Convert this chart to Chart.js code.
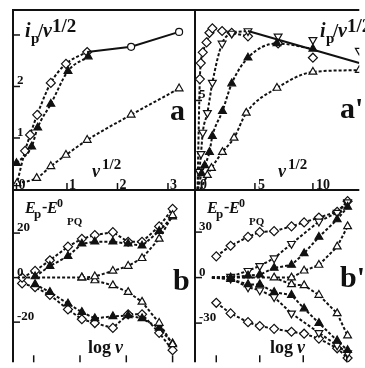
<!DOCTYPE html>
<html>
<head>
<meta charset="utf-8">
<script src="https://cdn.jsdelivr.net/npm/chart.js@4.4.1/dist/chart.umd.min.js"></script>
<style>
    body { margin: 0; background: #fff; }
    #wrap { position: relative; width: 365px; height: 368px; overflow: hidden; }
    #wrap canvas { position: absolute; left: 0; top: 0; }
</style>
</head>
<body>
<div id="wrap">
    <canvas id="panel_a" width="365" height="368"></canvas>
    <canvas id="panel_a2" width="365" height="368"></canvas>
    <canvas id="panel_b" width="365" height="368"></canvas>
    <canvas id="panel_b2" width="365" height="368"></canvas>
</div>
<script>

// ------------------------------------------------------- //
// data  (x, y) pairs
// ------------------------------------------------------ //

// a : i_p / v^1/2 against v^1/2
var a_diamond = [[0.0, 0.08], [0.17, 0.75], [0.27, 1.06], [0.41, 1.45], [0.68, 2.07], [0.98, 2.44], [1.40, 2.67]];
var a_ftri    = [[0.0, 0.51], [0.30, 0.83], [0.42, 1.20], [0.68, 1.66], [1.02, 2.30], [1.42, 2.58]];
var a_otri    = [[0.01, 0.12], [0.40, 0.22], [0.68, 0.45], [0.98, 0.67], [1.40, 0.96], [2.27, 1.45], [3.22, 1.96]];
var a_limit   = [[1.40, 2.67], [2.27, 2.77], [3.22, 3.06]];
var a_xticks  = [0, 1, 2, 3];
var a_xlabels = ['0', '1', '2', '3'];
var a_yticks  = [1, 2, 3];
var a_ylabels = ['1', '2', ''];

// a' : same, wider range
var ap_diamond  = [[0.05, 0], [0.25, 6.2], [0.33, 7.1], [0.5, 7.7], [0.83, 8.26], [1.08, 8.8], [1.33, 9.05], [2.17, 8.9], [3.0, 8.8], [4.4, 8.6]];
var ap_diamond2 = [[7.0, 8.2], [10.0, 7.4]];
var ap_dtri     = [[0.05, 0], [0.2, 1.0], [0.35, 2.0], [0.5, 3.2], [0.9, 4.3], [1.33, 6.0], [2.17, 8.2], [3.0, 8.76], [4.4, 8.9]];
var ap_dtri2    = [[7.0, 8.6], [10.0, 8.4], [14.0, 7.8]];
var ap_ftri     = [[0.1, 0], [0.4, 0.9], [0.67, 1.35], [1.08, 2.1], [1.33, 3.0], [2.2, 4.4], [3.0, 5.95], [4.4, 7.4], [6.9, 8.2], [10.0, 7.9]];
var ap_otri     = [[0.3, 0], [0.9, 0.8], [1.25, 1.2], [2.2, 2.1], [3.2, 2.9], [4.25, 4.3], [6.9, 5.7], [10.0, 6.6], [14.0, 6.7]];
var ap_limit    = [[4.4, 8.9], [14.0, 7.1]];
var ap_xticks   = [0, 5, 10];
var ap_xlabels  = ['0', '5', '10'];
var ap_yticks   = [5];
var ap_ylabels  = ['5'];

// b : E_p - E0_PQ against log v
var b_diamond_up = [[-1.25, 0], [-0.97, 3], [-0.65, 7.8], [-0.26, 13.9], [0.04, 17.4], [0.32, 19.1], [0.71, 20.4], [1.04, 16.1], [1.34, 16.1], [1.71, 23], [2.0, 30.9]];
var b_diamond_dn = [[-1.25, -2.6], [-0.97, -4.3], [-0.65, -7.8], [-0.26, -14.3], [0.04, -18.7], [0.32, -20.4], [0.71, -22.6], [1.04, -16.5], [1.34, -16.5], [1.71, -24.8], [2.0, -32.6]];
var b_ftri_up    = [[-0.97, 0.5], [-0.65, 5.2], [-0.26, 9.6], [0.04, 15.2], [0.32, 16.1], [0.71, 16.1], [1.04, 15.2], [1.34, 14.3], [1.71, 20.9], [2.0, 27.4]];
var b_ftri_dn    = [[-0.97, -3], [-0.65, -6.5], [-0.26, -11.7], [0.04, -15.5], [0.32, -18.3], [0.71, -17.4], [1.04, -17], [1.34, -18.3], [1.71, -22.6], [2.0, -29.6]];
var b_otri_up    = [[-1.25, 0], [0.04, 0], [0.32, 0.5], [0.71, 3], [1.04, 5.2], [1.34, 8.7], [1.71, 17.4], [2.0, 28]];
var b_otri_dn    = [[0.04, 0], [0.32, -1.3], [0.71, -3.5], [1.04, -6.5], [1.34, -10.9], [1.71, -20.4], [2.0, -30]];
var b_xticks     = [-1, 0, 1, 2];
var b_yticks     = [20, 0, -20];
var b_ylabels    = ['20', '0', '-20'];

// b' : same, wider range
var bp_diamond_up = [[-1.0, 14], [-0.67, 21], [-0.27, 26.8], [0, 30], [0.33, 30.6], [0.73, 33.8], [1.02, 36.4], [1.36, 39.6], [1.78, 43.4], [2.02, 50.4]];
var bp_diamond_dn = [[-1.0, -16.6], [-0.67, -23.6], [-0.27, -29.4], [0, -31.9], [0.33, -33.8], [0.73, -35.7], [1.02, -37], [1.36, -40.2], [1.78, -46.6], [2.02, -53]];
var bp_dtri_up    = [[-1.1, 0], [-0.67, 0.6], [-0.27, 4.5], [0, 7.7], [0.33, 12.8], [0.73, 22.3], [1.36, 37], [1.78, 42.8], [2.02, 49.8]];
var bp_dtri_dn    = [[-1.1, 0], [-0.67, -0.6], [-0.27, -6.4], [0, -8.3], [0.33, -12.8], [0.73, -23.6], [1.36, -36.4], [1.78, -44.7], [2.02, -49.8]];
var bp_ftri_up    = [[-1.1, 0], [-0.67, 0], [-0.27, 1.3], [0, 1.9], [0.33, 6.4], [0.73, 8.3], [1.02, 16], [1.36, 26.8], [1.78, 38.3], [2.02, 46.6]];
var bp_ftri_dn    = [[-1.1, 0], [-0.67, -1], [-0.27, -4.5], [0, -4.5], [0.33, -9.6], [0.73, -11.5], [1.02, -20.4], [1.36, -30], [1.78, -41.5], [2.02, -47.9]];
var bp_otri_up    = [[-1.1, 0], [0.33, 0], [0.73, 0], [1.02, 4.5], [1.36, 8.3], [1.78, 20.4], [2.02, 33.8]];
var bp_otri_dn    = [[0.33, 0], [0.73, -4.5], [1.02, -5.1], [1.36, -11.5], [1.78, -23.6], [2.02, -38.3]];
var bp_xticks     = [-1, 0, 1, 2];
var bp_yticks     = [30, 0, -30];
var bp_ylabels    = ['30', '0', '-30'];


// ------------------------------------------------------- //
// helpers
// ------------------------------------------------------ //

var INK = '#111';
var SERIF = "'Liberation Serif', 'DejaVu Serif', serif";

var DIAMOND = { style: 'rectRot', fill: '#fff', r: 4.5 };
var FTRI    = { style: 'triangle', fill: INK, r: 4.5 };
var OTRI    = { style: 'triangle', fill: '#fff', r: 4.5 };
var DTRI    = { style: 'triangle', fill: '#fff', r: 4.5, rotation: 180 };
var CIRCLE  = { style: 'circle', fill: '#fff', r: 3.5 };

function pts(arr) {
    return arr.map(function (p) { return { x: p[0], y: p[1] }; });
}

// one dataset; "hide" lists indexes that only anchor the curve
function series(arr, mark, o) {
    o = o || {};
    var hide = o.hide || [];
    return {
        data: pts(arr),
        showLine: o.noLine ? false : true,
        borderColor: INK,
        borderWidth: 2,
        borderDash: o.solid ? [] : [3, 2],
        cubicInterpolationMode: o.smooth ? 'monotone' : 'default',
        tension: 0,
        pointStyle: mark.style,
        pointRotation: mark.rotation || 0,
        pointBackgroundColor: mark.fill,
        pointBorderColor: INK,
        pointBorderWidth: 1.2,
        pointRadius: arr.map(function (p, i) { return hide.indexOf(i) >= 0 ? 0 : mark.r; }),
        pointHoverRadius: 0
    };
}

// axis frame, inside ticks and text
var framePlugin = {
    id: 'frame',
    afterDraw: function (chart) {
        var o = chart.options.plugins.frame;
        var ctx = chart.ctx, area = chart.chartArea;
        var xs = chart.scales.x, ys = chart.scales.y;
        ctx.save();
        ctx.strokeStyle = INK;
        ctx.fillStyle = INK;

        ctx.lineWidth = 2;
        ctx.beginPath();
        ctx.moveTo(area.left, area.bottom);
        ctx.lineTo(area.left, area.top);
        ctx.lineTo(area.right, area.top);
        ctx.stroke();

        ctx.lineWidth = 1.5;
        ctx.font = 'bold 14px ' + SERIF;
        ctx.textAlign = 'left';
        ctx.textBaseline = 'alphabetic';
        o.xTicks.forEach(function (v, i) {
            var px = xs.getPixelForValue(v);
            if (px > area.left + 3) {
                ctx.beginPath();
                ctx.moveTo(px, area.bottom - 7);
                ctx.lineTo(px, area.bottom);
                ctx.stroke();
            }
            if (o.xLabels && o.xLabels[i]) {
                ctx.fillText(o.xLabels[i], px + o.xLabelGap, area.bottom - 1);
            }
        });
        o.yTicks.forEach(function (v, i) {
            var py = ys.getPixelForValue(v);
            ctx.beginPath();
            ctx.moveTo(area.left, py);
            ctx.lineTo(area.left + 7, py);
            ctx.stroke();
            if (o.yLabels[i]) {
                ctx.font = 'bold 13px ' + SERIF;
                ctx.fillText(o.yLabels[i], area.left + 4, py - 2);
            }
        });

        o.text.forEach(function (t) {
            ctx.font = t[1] + ' ' + SERIF;
            ctx.fillText(t[0], t[2], t[3]);
        });
        ctx.restore();
    }
};

function ipLabel(x0) {
    return [
        ['i', 'italic bold 20px', x0, 37],
        ['p', 'bold 15px', x0 + 6, 43],
        ['/', 'bold 19px', x0 + 13, 37],
        ['\u03bd', 'italic bold 20px', x0 + 18, 37],
        ['1/2', 'bold 19px', x0 + 27, 32]
    ];
}

function epLabel(x0) {
    return [
        ['E', 'italic bold 16px', x0, 213],
        ['p', 'bold 13px', x0 + 9, 218],
        ['-', 'bold 16px', x0 + 17, 212],
        ['E', 'italic bold 16px', x0 + 22, 213],
        ['0', 'bold 12px', x0 + 32, 207],
        ['PQ', 'bold 11px', x0 + 42, 225]
    ];
}

function makeChart(id, datasets, pad, sx, sy, frame) {
    return new Chart(document.getElementById(id), {
        type: 'scatter',
        data: { datasets: datasets },
        options: {
            responsive: false,
            animation: false,
            events: [],
            layout: { padding: pad },
            scales: {
                x: { type: 'linear', display: false, min: sx[0], max: sx[1] },
                y: { type: 'linear', display: false, min: sy[0], max: sy[1] }
            },
            plugins: {
                legend: { display: false },
                tooltip: { enabled: false },
                frame: frame
            }
        },
        plugins: [framePlugin]
    });
}


// ------------------------------------------------------- //
// Panel a
// ------------------------------------------------------ //

makeChart('panel_a', [
    series(a_limit, CIRCLE, { solid: true, hide: [0] }),
    series(a_otri, OTRI, { smooth: true }),
    series(a_ftri, FTRI, { smooth: true }),
    series(a_diamond, DIAMOND, { smooth: true, hide: [0] })
], { left: 13, top: 10, right: 170, bottom: 178 }, [-0.069, 3.535], [-0.01, 3.485], {
    xTicks: a_xticks, xLabels: a_xlabels, xLabelGap: 2,
    yTicks: a_yticks, yLabels: a_ylabels,
    text: ipLabel(25).concat([
        ['\u03bd', 'italic bold 18px', 92, 177],
        ['1/2', 'bold 15px', 102, 169],
        ['a', 'bold 30px', 170, 120]
    ])
});


// ------------------------------------------------------- //
// Panel a'
// ------------------------------------------------------ //

makeChart('panel_a2', [
    series(ap_limit, CIRCLE, { solid: true, hide: [0, 1] }),
    series(ap_otri, OTRI, { smooth: true, hide: [0] }),
    series(ap_ftri, FTRI, { smooth: true, hide: [0] }),
    series(ap_dtri, DTRI, { smooth: true, hide: [0] }),
    series(ap_dtri2, DTRI, { noLine: true }),
    series(ap_diamond, DIAMOND, { smooth: true, hide: [0] }),
    series(ap_diamond2, DIAMOND, { noLine: true })
], { left: 195, top: 10, right: 0, bottom: 178 }, [-0.167, 14.0], [-0.03, 10.08], {
    xTicks: ap_xticks, xLabels: ap_xlabels, xLabelGap: 3,
    yTicks: ap_yticks, yLabels: ap_ylabels,
    text: ipLabel(320).concat([
        ['\u03bd', 'italic bold 18px', 278, 177],
        ['1/2', 'bold 15px', 288, 169],
        ["a'", 'bold 30px', 340, 118]
    ])
});


// ------------------------------------------------------- //
// Panel b
// ------------------------------------------------------ //

makeChart('panel_b', [
    series(b_otri_up, OTRI, { hide: [0] }),
    series(b_otri_dn, OTRI),
    series(b_ftri_up, FTRI),
    series(b_ftri_dn, FTRI),
    series(b_diamond_up, DIAMOND),
    series(b_diamond_dn, DIAMOND)
], { left: 13, top: 190, right: 170, bottom: 0 }, [-1.447, 2.484], [-38.04, 39.35], {
    xTicks: b_xticks, xLabels: null, xLabelGap: 0,
    yTicks: b_yticks, yLabels: b_ylabels,
    text: epLabel(25).concat([
        ['log', 'bold 18px', 88, 353],
        ['\u03bd', 'italic bold 18px', 115, 353],
        ['b', 'bold 30px', 173, 290]
    ])
});


// ------------------------------------------------------- //
// Panel b'
// ------------------------------------------------------ //

makeChart('panel_b2', [
    series(bp_otri_up, OTRI, { hide: [0] }),
    series(bp_otri_dn, OTRI, { hide: [0] }),
    series(bp_ftri_up, FTRI, { hide: [0] }),
    series(bp_ftri_dn, FTRI, { hide: [0] }),
    series(bp_dtri_up, DTRI, { hide: [0] }),
    series(bp_dtri_dn, DTRI, { hide: [0] }),
    series(bp_diamond_up, DIAMOND),
    series(bp_diamond_dn, DIAMOND)
], { left: 195, top: 190, right: 0, bottom: 0 }, [-1.489, 2.289], [-55.84, 57.75], {
    xTicks: bp_xticks, xLabels: null, xLabelGap: 0,
    yTicks: bp_yticks, yLabels: bp_ylabels,
    text: epLabel(207).concat([
        ['log', 'bold 18px', 270, 353],
        ['\u03bd', 'italic bold 18px', 297, 353],
        ["b'", 'bold 30px', 340, 287]
    ])
});

</script>
</body>
</html>
